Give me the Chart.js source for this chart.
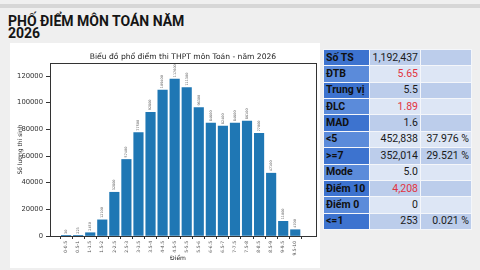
<!DOCTYPE html>
<html><head><meta charset="utf-8">
<script src="https://cdn.jsdelivr.net/npm/chart.js@4/dist/chart.umd.min.js"></script>
<style>
html,body{margin:0;padding:0;}
body{width:480px;height:270px;background:#efefef;position:relative;overflow:hidden;font-family:Roboto,"Liberation Sans",sans-serif;}
#band{position:absolute;left:0;top:4px;width:480px;height:4px;background:#d6d6d6;}
#title{position:absolute;left:8px;top:16px;font-weight:bold;font-size:14px;line-height:11.5px;color:#151515;letter-spacing:0px;}
#panel{position:absolute;left:10px;top:43px;width:310px;height:225px;background:#fff;}
#c{position:absolute;left:10px;top:43px;}
#tbl{position:absolute;left:323px;top:49px;border-collapse:collapse;font-size:10.5px;color:#1a1a1a;}
#tbl td{height:15.36px;padding:0 2px;border:1px solid #f4f6fa;white-space:nowrap;line-height:12px;}
#tbl td.l{width:41px;font-weight:bold;text-align:left;color:#101010;}
#tbl td.v{width:46px;text-align:right;}
#tbl td.p{width:46px;text-align:right;}
#tbl tr.o td.l{background:#3d73cf;}
#tbl tr.e td.l{background:#5b8bda;}
#tbl tr.o td.v,#tbl tr.o td.p{background:#bccdeb;}
#tbl tr.e td.v,#tbl tr.e td.p{background:#dde6f5;}
.red{color:#e2343f;}
</style></head>
<body>
<div id="band"></div>
<div id="title">PHỐ ĐIỂM MÔN TOÁN NĂM<br>2026</div>
<div id="panel"></div>
<canvas id="c" width="310" height="225"></canvas>
<table id="tbl"></table>
<script>
// ---- data ----
const binLabels = ["0-0.5","0.5-1","1-1.5","1.5-2","2-2.5","2.5-3","3-3.5","3.5-4","4-4.5","4.5-5","5-5.5","5.5-6","6-6.5","6.5-7","7-7.5","7.5-8","8-8.5","8.5-9","9-9.5","9.5-10"];
const counts = [30, 223, 2450, 12100, 32800, 57400, 77500, 92800, 109400, 117600, 111300, 96300, 84600, 82400, 84600, 86100, 77000, 47100, 11000, 4700];
const yTicks = [0, 20000, 40000, 60000, 80000, 100000, 120000];
const chartTitle = "Biểu đồ phổ điểm thi THPT môn Toán - năm 2026";
const yTitle = "Số lượng thí sinh";
const xTitle = "Điểm";
const statLabels = ["Số TS","ĐTB","Trung vị","ĐLC","MAD","<5",">=7","Mode","Điểm 10","Điểm 0","<=1"];
const statValues = ["1,192,437","5.65","5.5","1.89","1.6","452,838","352,014","5.0","4,208","0","253"];
const statPercents = ["","","","","","37.976 %","29.521 %","","","","0.021 %"];
const redRows = [1,3,8];

// ---- table ----
const tbl = document.getElementById('tbl');
statLabels.forEach((l,i)=>{
  const tr = document.createElement('tr');
  tr.className = i%2===0 ? 'o' : 'e';
  const a = document.createElement('td'); a.className='l'; a.textContent=l;
  const b = document.createElement('td'); b.className='v'+(redRows.includes(i)?' red':''); b.textContent=statValues[i];
  const c = document.createElement('td'); c.className='p'; c.textContent=statPercents[i];
  tr.append(a,b,c); tbl.appendChild(tr);
});

// ---- chart ----
const textPlugin = {
  id:'texts',
  afterDatasetsDraw(chart){
    const ctx = chart.ctx, ca = chart.chartArea;
    ctx.save();
    ctx.strokeStyle = '#333'; ctx.lineWidth = 1;
    ctx.strokeRect(Math.round(ca.left)+0.5, Math.round(ca.top)+0.5, Math.round(ca.right-ca.left), Math.round(ca.bottom-ca.top));
    ctx.fillStyle = '#555';
    ctx.font = '3.4px "DejaVu Sans"';
    ctx.textAlign = 'left'; ctx.textBaseline = 'middle';
    chart.getDatasetMeta(0).data.forEach((bar,i)=>{
      ctx.save();
      ctx.translate(bar.x, bar.y - 2);
      ctx.rotate(-Math.PI/2);
      ctx.fillText(String(counts[i]), 0, 0);
      ctx.restore();
    });
    ctx.fillStyle = '#222';
    ctx.font = '7.6px "DejaVu Sans"';
    ctx.textAlign = 'center'; ctx.textBaseline = 'alphabetic';
    ctx.fillText(chartTitle, (ca.left+ca.right)/2, ca.top - 4);
    ctx.font = '6px "DejaVu Sans"';
    ctx.textBaseline = 'middle';
    ctx.fillText(xTitle, (ca.left+ca.right)/2 - 5, 215);
    ctx.save();
    ctx.translate(10, (ca.top+ca.bottom)/2);
    ctx.rotate(-Math.PI/2);
    ctx.fillText(yTitle, 0, 0);
    ctx.restore();
    ctx.restore();
  }
};

new Chart(document.getElementById('c'), {
  type:'bar',
  data:{
    datasets:[{
      data: counts.map((v,i)=>({x:i, y:v})),
      backgroundColor:'#1f77b4',
      borderWidth:0,
      barThickness:9.5
    }]
  },
  options:{
    responsive:false, animation:false, devicePixelRatio:1,
    layout:{padding:{left:0,top:20,right:4,bottom:0}},
    plugins:{legend:{display:false}, tooltip:{enabled:false}, title:{display:false}},
    scales:{
      x:{
        type:'linear', min:-1.335, max:20.72, offset:false,
        afterBuildTicks:s=>{ s.ticks = binLabels.map((_,i)=>({value:i})); },
        afterFit:s=>{ s.height = 32; },
        grid:{display:true, drawOnChartArea:false, drawTicks:true, tickLength:3, color:'#333'},
        border:{display:true, color:'#333'},
        ticks:{autoSkip:false, maxRotation:90, minRotation:90, padding:2,
          font:{family:'DejaVu Sans', size:4.5}, color:'#555',
          callback:(v)=> binLabels[v] ?? ''}
      },
      y:{
        min:0, max:129750,
        afterBuildTicks:s=>{ s.ticks = yTicks.map(v=>({value:v})); },
        afterFit:s=>{ s.width = 40; },
        grid:{display:true, drawOnChartArea:false, drawTicks:true, tickLength:4, color:'#333'},
        border:{display:true, color:'#333'},
        ticks:{padding:3, font:{family:'DejaVu Sans', size:6.8}, color:'#333', callback:v=>String(v)}
      }
    }
  },
  plugins:[textPlugin]
});
</script>
</body></html>
